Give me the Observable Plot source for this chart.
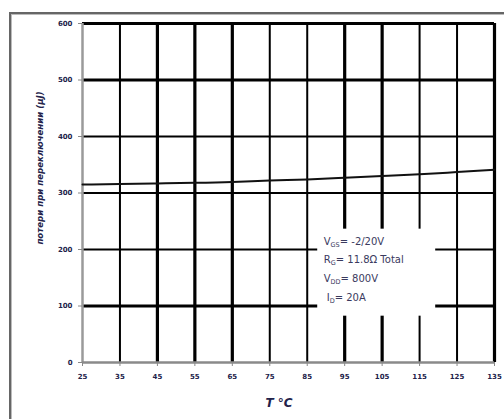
<!DOCTYPE html>
<html>
<head>
<meta charset="utf-8">
<script src="https://cdn.jsdelivr.net/npm/d3@7"></script>
<script src="https://cdn.jsdelivr.net/npm/@observablehq/plot@0.6"></script>
<style>
  body { margin: 0; background: #fff; }
  #wrap { position: relative; width: 504px; height: 419px; overflow: hidden; }
  #frame { position: absolute; left: 9px; top: 12px; width: 600px; height: 600px;
           border-left: 2px solid #666; border-top: 2px solid #666; box-shadow: inset 1px 1px 0 #bbb; }
  #chart { position: absolute; left: 0; top: 0; }
</style>
</head>
<body>
<div id="wrap"><div id="frame"></div><div id="chart"></div></div>
<script>
// Data
const temps = [25, 35, 45, 55, 65, 75, 85, 95, 105, 115, 125, 135];
const losses = [315, 316, 317, 318, 319.5, 322, 324, 327, 330, 333, 337, 341];
const xTicks = [25, 35, 45, 55, 65, 75, 85, 95, 105, 115, 125, 135];
const yTicks = [0, 100, 200, 300, 400, 500, 600];
const thickX = [45, 55, 65, 95, 105, 135];
const thinX = [35, 75, 85, 115, 125];
const thickY = [100, 500, 600];
const thinY = [200, 300, 400];
const noteMain = ["V", "R", "V", "I"];
const noteSub = ["GS", "G", "DD", "D"];
const noteRest = ["= -2/20V", "= 11.8Ω Total", "= 800V", "= 20A"];
const yLabel = "потери при переключении (μJ)";
const xLabel = "T °C";

const curve = temps.map((t, i) => ({t, e: losses[i]}));
const notes = noteMain.map((m, i) => ({m, s: noteSub[i], r: noteRest[i], i}));

const plot = Plot.plot({
  width: 504,
  height: 419,
  marginLeft: 82,
  marginRight: 10,
  marginTop: 23,
  marginBottom: 57,
  style: {fontFamily: "DejaVu Sans, Verdana, sans-serif", background: "transparent"},
  x: {domain: [25, 135]},
  y: {domain: [0, 600]},
  marks: [
    Plot.ruleY(thinY, {stroke: "black", strokeWidth: 2}),
    Plot.ruleY(thickY, {stroke: "black", strokeWidth: 3}),
    Plot.ruleX(thinX, {stroke: "black", strokeWidth: 2}),
    Plot.ruleX(thickX, {stroke: "black", strokeWidth: 3.2}),
    Plot.ruleX([25], {stroke: "#9a9a9a", strokeWidth: 2.5}),
    Plot.ruleY([0], {stroke: "#8a8a8a", strokeWidth: 2.5}),
    Plot.axisX({ticks: xTicks, tickSize: 4, tickPadding: 8, tickFormat: d => String(d),
      stroke: "#888", fill: "#22224a", fontSize: 7, fontWeight: "bold", label: null}),
    Plot.axisY({ticks: yTicks, tickSize: 4, tickPadding: 6, tickFormat: d => String(d),
      stroke: "#888", fill: "#22224a", fontSize: 7, fontWeight: "bold", label: null}),
    Plot.line(curve, {x: "t", y: "e", curve: "natural", stroke: "#111", strokeWidth: 2}),
    Plot.rect([0], {x1: 87.8, x2: 119.3, y1: 82, y2: 236, fill: "white"}),
    Plot.text(notes, {x: 89.4, y: d => 214.5 - d.i * 33.6, text: d => d.m + d.s + d.r,
      textAnchor: "start", fontSize: 10, fill: "#3a3a5e", className: "note"})
  ]
});

// Build subscripts in annotation text
d3.select(plot).selectAll("text").each(function() {
  const el = d3.select(this);
  const txt = el.text();
  const n = notes.find(d => d.m + d.s + d.r === txt);
  if (!n) return;
  el.text("");
  if (n.m === "I") el.attr("dx", 3);
  el.append("tspan").text(n.m);
  el.append("tspan").attr("font-size", 6.5).attr("dy", 2).text(n.s);
  el.append("tspan").attr("dy", -2).text(n.r);
});

const svg = d3.select(plot);
svg.append("text")
  .attr("transform", "translate(43,168) rotate(-90)")
  .attr("text-anchor", "middle")
  .attr("font-size", 8.6)
  .attr("font-weight", "bold")
  .attr("font-style", "italic")
  .attr("fill", "#22224a")
  .text(yLabel);
svg.append("text")
  .attr("x", 279)
  .attr("y", 407)
  .attr("text-anchor", "middle")
  .attr("font-size", 12)
  .attr("font-weight", "bold")
  .attr("font-style", "italic")
  .attr("fill", "#22224a")
  .text(xLabel);

document.getElementById("chart").appendChild(plot);
</script>
</body>
</html>
